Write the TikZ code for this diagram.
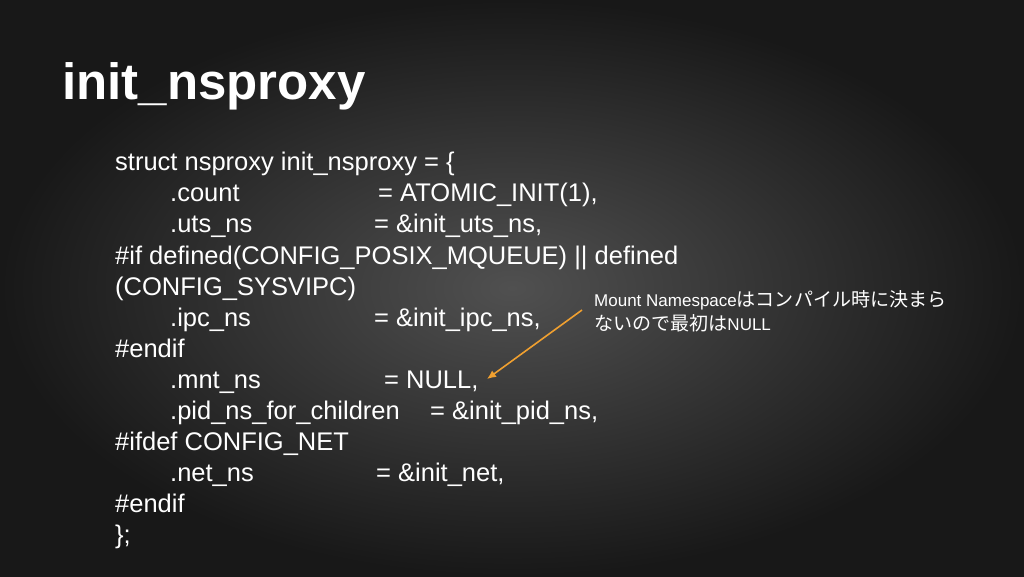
\documentclass[tikz,border=0pt]{standalone}
\usepackage{fontspec}
\usetikzlibrary{arrows.meta}
\setmainfont{Liberation Sans}
\newfontfamily\cjk[Scale=1.12]{Noto Sans CJK JP}
\definecolor{bgmid}{HTML}{505050}
\definecolor{bgout}{HTML}{181818}
\definecolor{notearrow}{HTML}{F0A030}
\tikzset{
  code/.style={text=white,anchor=base west,inner sep=0pt,font=\fontsize{25.5}{25.5}\selectfont},
  note/.style={text=white,anchor=base west,inner sep=0pt,font=\fontsize{17}{17}\selectfont}
}
\begin{document}
\begin{tikzpicture}[x=1pt,y=-1pt]
	%background
	\shade[inner color=bgmid,outer color=bgout] (0,0) rectangle (1024,576);
	\useasboundingbox (0,0) rectangle (1024,576);
	%title
	\node[text=white,anchor=base west,inner sep=0pt,font=\bfseries\fontsize{51}{51}\selectfont] (title) at (62,99) {init\_nsproxy};
	%code lines
	\node[code] (l1) at (115,170) {struct nsproxy init\_nsproxy = \{};
	\node[code] (l2) at (170,201) {.count};
	\node[code] (l2v) at (378,201) {= ATOMIC\_INIT(1),};
	\node[code] (l3) at (170,232) {.uts\_ns};
	\node[code] (l3v) at (374,232) {= \&init\_uts\_ns,};
	\node[code] (l4) at (115,264) {\#if defined(CONFIG\_POSIX\_MQUEUE) || defined};
	\node[code] (l5) at (115,295) {(CONFIG\_SYSVIPC)};
	\node[code] (l6) at (170,326) {.ipc\_ns};
	\node[code] (l6v) at (374,326) {= \&init\_ipc\_ns,};
	\node[code] (l7) at (115,357) {\#endif};
	\node[code] (l8) at (170,388) {.mnt\_ns};
	\node[code] (l8v) at (384,388) {= NULL,};
	\node[code] (l9) at (170,419) {.pid\_ns\_for\_children};
	\node[code] (l9v) at (430,419) {= \&init\_pid\_ns,};
	\node[code] (l10) at (115,450) {\#ifdef CONFIG\_NET};
	\node[code] (l11) at (170,481) {.net\_ns};
	\node[code] (l11v) at (376,481) {= \&init\_net,};
	\node[code] (l12) at (115,512) {\#endif};
	\node[code] (l13) at (115,543) {\};};
	%note
	\node[note] (note1) at (594,306) {Mount Namespace{\cjk はコンパイル時に決まら}};
	\node[note] (note2) at (594,330) {{\cjk ないので最初は}NULL};
	\coordinate (tip) at (487,379);
	\draw[notearrow,line width=1.6pt,-{Latex[length=9pt,width=8pt]}] (582,310) -- (tip);
\end{tikzpicture}
\end{document}
